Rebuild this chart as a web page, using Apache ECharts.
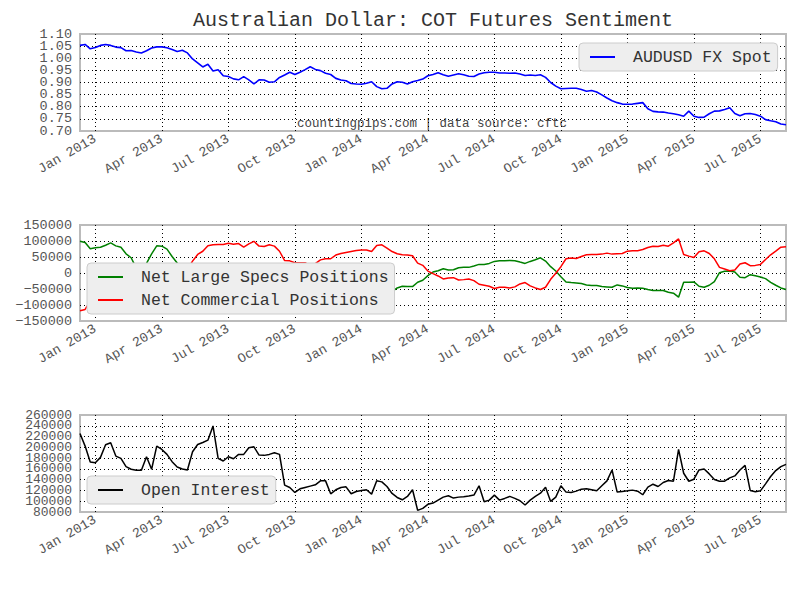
<!DOCTYPE html>
<html>
<head>
<meta charset="utf-8">
<script src="https://cdn.jsdelivr.net/npm/echarts@6/dist/echarts.min.js"></script>
<style>
html, body { margin: 0; padding: 0; background: #fff; }
#chart { width: 800px; height: 600px; }
</style>
</head>
<body>
<div id="chart"></div>
<script>
// weekly COT report dates, Tuesdays from 11 Dec 2012 to 4 Aug 2015
var weeks = [];
for (var i = 0; i < 139; i++) {
    weeks.push(new Date(Date.UTC(2012, 11, 11) + i * 7 * 86400000).toISOString().slice(0, 10));
}
var tickLabels = ['Jan 2013', 'Apr 2013', 'Jul 2013', 'Oct 2013', 'Jan 2014', 'Apr 2014',
    'Jul 2014', 'Oct 2014', 'Jan 2015', 'Apr 2015', 'Jul 2015'];
var spotTicks = [0.70, 0.75, 0.80, 0.85, 0.90, 0.95, 1.00, 1.05, 1.10];
var netTicks = [-150000, -100000, -50000, 0, 50000, 100000, 150000];
var oiTicks = [80000, 100000, 120000, 140000, 160000, 180000, 200000, 220000, 240000, 260000];

var audusd = [
    1.053, 1.057, 1.039, 1.044, 1.053, 1.057, 1.053, 1.046, 1.044, 1.031,
    1.032, 1.026, 1.022, 1.031, 1.042, 1.047, 1.047, 1.043, 1.036, 1.028,
    1.033, 1.022, 0.997, 0.981, 0.964, 0.975, 0.947, 0.953, 0.928, 0.925,
    0.915, 0.911, 0.924, 0.911, 0.894, 0.911, 0.910, 0.901, 0.903, 0.921,
    0.931, 0.942, 0.933, 0.942, 0.953, 0.965, 0.954, 0.949, 0.938, 0.933,
    0.917, 0.910, 0.907, 0.896, 0.894, 0.893, 0.897, 0.903, 0.883, 0.874,
    0.876, 0.894, 0.903, 0.901, 0.894, 0.903, 0.908, 0.914, 0.928, 0.933,
    0.940, 0.932, 0.926, 0.931, 0.936, 0.932, 0.926, 0.925, 0.935,
    0.940, 0.942, 0.942, 0.939, 0.939, 0.938, 0.939, 0.935, 0.929, 0.931,
    0.929, 0.932, 0.921, 0.900, 0.885, 0.874, 0.875, 0.876, 0.876, 0.871,
    0.864, 0.867, 0.861, 0.849, 0.836, 0.825, 0.817, 0.811, 0.810, 0.811,
    0.814, 0.817, 0.792, 0.781, 0.779, 0.778, 0.774, 0.771, 0.767, 0.761,
    0.782, 0.761, 0.756, 0.757, 0.771, 0.782, 0.783, 0.789, 0.796, 0.772,
    0.763, 0.771, 0.772, 0.768, 0.761, 0.747, 0.742, 0.738, 0.729, 0.726
];

var largeSpecs = [
    99000, 95000, 75500, 78600, 80700, 86900, 94100, 84800, 80700, 60000,
    47600, 15000, -5000, 30000, 60000, 84800, 83800, 74500, 51700, 31000,
    10000, -20000, -35000, -55000, -65000, -80000, -82000, -84000, -85000, -88000,
    -86000, -87000, -76000, -85000, -92000, -78000, -77000, -82000, -78000, -63000,
    -36000, -35000, -29000, -29000, -28000, -18000, -22000, -36000, -40000, -40000,
    -50000, -55000, -58000, -60000, -63000, -65000, -65000, -60000, -75000, -78000,
    -68000, -58000, -46600, -41400, -42400, -42400, -29000, -22800, -8300, 3100,
    7200, 13400, 9300, 10300, 16600, 17600, 17600, 21700, 26900,
    26900, 30000, 36200, 38300, 38300, 39300, 38300, 34100, 30000, 36200,
    41400, 47600, 37200, 19700, 6200, -11400, -27900, -30000, -31000, -33100,
    -37200, -39300, -39300, -42400, -43400, -44500, -37200, -40300, -45500, -47600,
    -46600, -47600, -51700, -54800, -54800, -54800, -60000, -63100, -75500, -29000,
    -29000, -27900, -41400, -44500, -38300, -26900, 1000, 5200, 6200, 3100,
    -13400, -14500, -5200, -8300, -12400, -17600, -29000, -38300, -46600, -51700
];

var commercial = [
    -118000, -114000, -88000, -88000, -90000, -97000, -104000, -95000, -90000, -68000,
    -55000, -25000, -2000, -35000, -68000, -95000, -93000, -82000, -58000, -38000,
    -15000, 12000, 37000, 58000, 68000, 85000, 88000, 89000, 89000, 93000,
    90000, 92000, 81000, 91000, 99000, 84000, 83000, 88000, 84000, 68000,
    39000, 38000, 32000, 32000, 32000, 22000, 29000, 41000, 44500, 44500,
    56000, 61000, 64000, 67000, 70000, 72000, 72000, 67000, 86000, 88000,
    78000, 67000, 60000, 57000, 56000, 54000, 31000, 24000, 6000, -2000,
    -9300, -18600, -15500, -14500, -21700, -20700, -18600, -23800, -35200,
    -38300, -41400, -48600, -44500, -44500, -46600, -43400, -34100, -30000, -40300,
    -46600, -51700, -44500, -19700, -1000, 19700, 44500, 46600, 45500, 51700,
    56900, 57900, 57900, 59000, 62100, 59000, 60000, 61000, 68300, 69300,
    69300, 73400, 79700, 83800, 82800, 86900, 83800, 94100, 106600, 57900,
    52800, 48600, 66200, 69300, 61000, 44500, 17600, 12400, 7200, 9300,
    27900, 32100, 22800, 23800, 26900, 42400, 56900, 68300, 80700, 81700
];

var openInterest = [
    225600, 202300, 172800, 171500, 181400, 204700, 208400, 183800, 179500, 164200,
    159300, 157400, 157400, 182600, 159300, 202300, 196100, 186900, 173400, 163600,
    159900, 158000, 191800, 205300, 209000, 213300, 239700, 179500, 174600, 182600,
    178900, 186900, 186900, 199200, 201000, 185700, 185100, 186900, 190000, 186900,
    129800, 125500, 116300, 123000, 125500, 128000, 130400, 137800, 137800, 113800,
    121200, 125500, 126700, 113800, 118100, 119900, 121200, 113200, 137800, 135900,
    127300, 114400, 107000, 102700, 108900, 121200, 83100, 86800, 94200, 96600,
    102100, 107600, 110100, 105800, 107600, 108300, 109500, 111400, 128600,
    99100, 102100, 111300, 102100, 105200, 108900, 105200, 100900, 93000, 102100,
    108900, 115000, 126100, 99700, 107600, 128600, 116900, 116300, 118700, 122400,
    123000, 121200, 119300, 128600, 137800, 158000, 116900, 118100, 119300, 120600,
    118700, 112000, 126100, 131600, 127300, 134700, 138400, 137100, 196100, 151900,
    137100, 140800, 158000, 159900, 150700, 140200, 137100, 137100, 143300, 147000,
    158000, 166600, 120000, 117500, 119300, 132200, 145900, 156900, 164200, 168500
];

var FONT = 'Liberation Mono';
var dotted = { color: '#000', width: 1, type: [1, 3] };

function isQuarter(index) {
    return index >= 3 && (index - 3) % 13 === 0;
}

function xAxis(grid) {
    return {
        type: 'category',
        gridIndex: grid,
        data: weeks,
        boundaryGap: false,
        axisLine: { show: false },
        axisTick: { show: false, interval: isQuarter },
        axisLabel: {
            interval: isQuarter,
            rotate: 30,
            margin: 7,
            color: '#555',
            fontFamily: FONT,
            fontSize: 13.5,
            formatter: function (v, index) { return tickLabels[(index - 3) / 13]; }
        },
        splitLine: { show: true, interval: isQuarter, lineStyle: dotted }
    };
}

// inner ticks on one axis, end ticks on a twin axis so neither set gets thinned out
function yAxes(grid, ticks, step, fmt, size) {
    var lo = ticks[0], hi = ticks[ticks.length - 1];
    function base(values, split, minMax) {
        return {
            type: 'value',
            gridIndex: grid,
            position: 'left',
            offset: 0,
            min: lo,
            max: hi,
            interval: step,
            axisLine: { show: false },
            axisTick: { show: false },
            axisLabel: {
                margin: 8,
                color: '#555',
                fontFamily: FONT,
                fontSize: size,
                customValues: values,
                showMinLabel: minMax,
                showMaxLabel: minMax,
                hideOverlap: false,
                formatter: fmt
            },
            splitLine: { show: split, showMinLine: false, showMaxLine: false, lineStyle: dotted }
        };
    }
    return [base(ticks, true, false), base([lo, hi], false, true)];
}

function plain(v) {
    return v < 0 ? '\u2212' + Math.abs(v) : String(v);
}

var legendBase = {
    backgroundColor: '#eeeeee',
    borderColor: '#cccccc',
    borderWidth: 1,
    borderRadius: 4,
    icon: 'rect',
    itemWidth: 25,
    itemHeight: 2,
    padding: [5, 6, 5, 11],
    textStyle: { fontFamily: FONT, fontSize: 16.5, lineHeight: 18, color: '#333', padding: [0, 0, 0, 13] }
};

function legend(extra) {
    return Object.assign({}, legendBase, extra);
}

function line(name, grid, data, color, width) {
    return {
        name: name,
        type: 'line',
        xAxisIndex: grid,
        yAxisIndex: grid * 2,
        data: data,
        symbol: 'none',
        lineStyle: { color: color, width: width },
        itemStyle: { color: color },
        animation: false
    };
}

var chart = echarts.init(document.getElementById('chart'), null, { renderer: 'svg' });
chart.setOption({
    animation: false,
    backgroundColor: '#fff',
    grid: [
        { left: 80, width: 706, top: 34, height: 97, show: true, borderColor: '#bbbbbb', borderWidth: 2 },
        { left: 80, width: 706, top: 225, height: 96, show: true, borderColor: '#bbbbbb', borderWidth: 2 },
        { left: 80, width: 706, top: 415, height: 97, show: true, borderColor: '#bbbbbb', borderWidth: 2 }
    ],
    xAxis: [xAxis(0), xAxis(1), xAxis(2)],
    yAxis: [].concat(
        yAxes(0, spotTicks, 0.05, function (v) { return v.toFixed(2); }, 13.5),
        yAxes(1, netTicks, 50000, plain, 13.5),
        yAxes(2, oiTicks, 20000, plain, 13)
    ),
    legend: [
        legend({ data: ['AUDUSD FX Spot'], left: 579, top: 43 }),
        legend({ data: ['Net Large Specs Positions', 'Net Commercial Positions'], orient: 'vertical',
            left: 87, top: 263, itemGap: 5 }),
        legend({ data: ['Open Interest'], left: 87, top: 476 })
    ],
    graphic: [
        {
            type: 'text', x: 433, y: 20,
            style: { text: 'Australian Dollar: COT Futures Sentiment', fill: '#333',
                font: '20px "Liberation Mono"', textAlign: 'center', textVerticalAlign: 'middle' }
        },
        {
            type: 'text', x: 432, y: 124,
            style: { text: 'countingpips.com | data source: cftc', fill: '#444',
                font: '12.5px "Liberation Mono"', textAlign: 'center', textVerticalAlign: 'middle' }
        }
    ],
    series: [
        line('AUDUSD FX Spot', 0, audusd, '#0000ff', 1.6),
        line('Net Large Specs Positions', 1, largeSpecs, '#008000', 1.5),
        line('Net Commercial Positions', 1, commercial, '#ff0000', 1.5),
        line('Open Interest', 2, openInterest, '#000000', 1.5)
    ]
});
</script>
</body>
</html>
